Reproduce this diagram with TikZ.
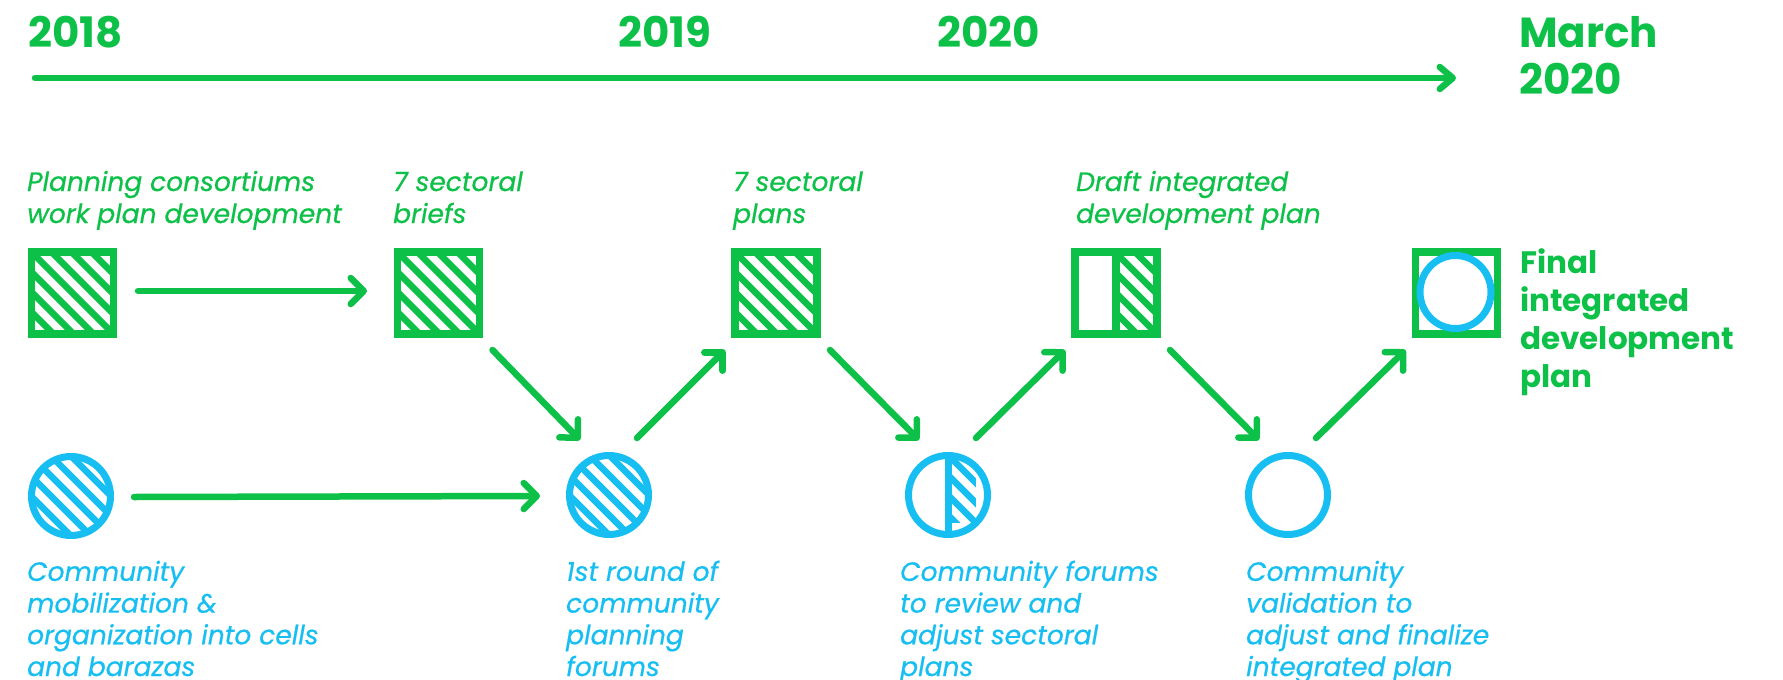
\documentclass[tikz,border=0pt]{standalone}
\usepackage{fontspec}
\setmainfont{Poppins}
\newfontfamily\labelfont{Poppins}[FakeBold=0.6]
\usetikzlibrary{arrows.meta,shapes.geometric}
\definecolor{tgreen}{RGB}{12,192,72}
\definecolor{tblue}{RGB}{22,190,242}
\begin{document}
\begin{tikzpicture}[x=1pt,y=-1pt,
  sqbox/.style={draw=tgreen, line width=7.5pt, minimum size=82pt, inner sep=0pt, outer sep=0pt},
  cirbox/.style={draw=tblue, circle, line width=7pt, minimum size=79pt, inner sep=0pt, outer sep=0pt},
  ghatch/.style={draw=tgreen, line width=6.5pt},
  bhatch/.style={draw=tblue, line width=6.5pt},
  arr/.style={draw=tgreen, line width=6.5pt, line cap=round, -{Straight Barb[length=13pt,width=26pt,round]}},
  yearlab/.style={text=tgreen, font=\bfseries\fontsize{42}{47}\selectfont, anchor=base west, inner sep=0pt, align=left},
  toplab/.style={text=tgreen, font=\labelfont\itshape\fontsize{26.5}{32}\selectfont, anchor=base west, inner sep=0pt, align=left},
  botlab/.style={text=tblue, font=\labelfont\itshape\fontsize{26.5}{31.7}\selectfont, anchor=base west, inner sep=0pt, align=left},
  finlab/.style={text=tgreen, font=\bfseries\fontsize{31}{37.7}\selectfont, anchor=base west, inner sep=0pt, align=left}
]
\useasboundingbox (0,0) rectangle (1783,680);

% timeline
\node[yearlab] (y2018) at (28,47) {2018};
\node[yearlab] (y2019) at (618,47) {2019};
\node[yearlab] (y2020) at (937,47) {2020};
\node[yearlab] (ymar) at (1519,94) {March\\2020};
\coordinate (tl0) at (35,78);
\coordinate (tl1) at (1456,78);
\draw[arr, -{Straight Barb[length=13pt,width=22pt,round]}] (tl0) -- (tl1);

% squares
\node[sqbox] (s1) at (72.5,293) {};
\node[sqbox] (s2) at (438.5,293) {};
\node[sqbox] (s3) at (776,293) {};
\node[sqbox] (s4) at (1116,293) {};
\node[sqbox] (s5) at (1456.5,293) {};
% circles
\node[cirbox] (c1) at (71,496) {};
\node[cirbox] (c2) at (609,495) {};
\node[cirbox] (c3) at (948,495) {};
\node[cirbox] (c4) at (1288,495) {};
\node[draw=tblue, ellipse, line width=7pt, minimum width=71pt, minimum height=73pt, inner sep=0pt] (e5) at (1455.5,292) {};

% hatching of full squares
\foreach \s in {s1,s2,s3}{
  \begin{scope}
    \clip (\s.south west) rectangle (\s.north east);
    \foreach \k in {-6,...,6}
      \draw[ghatch] ([shift={(\k*20-70,-70)}]\s.center) -- ([shift={(\k*20+70,70)}]\s.center);
  \end{scope}
}
% half square
\begin{scope}
  \clip (s4.north) rectangle (s4.south east);
  \foreach \k in {-6,...,6}
    \draw[ghatch] ([shift={(\k*20-70,-70)}]s4.center) -- ([shift={(\k*20+70,70)}]s4.center);
\end{scope}
\draw[draw=tgreen, line width=7.5pt] (s4.north) -- (s4.south);

% hatching of full circles
\foreach \c in {c1,c2}{
  \begin{scope}
    \clip (\c.center) circle[radius=39.5];
    \foreach \k in {-6,...,6}
      \draw[bhatch] ([shift={(\k*20-70,-70)}]\c.center) -- ([shift={(\k*20+70,70)}]\c.center);
  \end{scope}
}
% half circle
\begin{scope}
  \clip (c3.center) circle[radius=39.5];
  \clip (c3.north) rectangle (c3.south east);
  \foreach \k in {-6,...,6}
    \draw[bhatch] ([shift={(\k*20-70,-70)}]c3.center) -- ([shift={(\k*20+70,70)}]c3.center);
\end{scope}
\draw[draw=tblue, line width=7pt] (c3.north) -- (c3.south);

% connectors
\draw[arr] ([shift={(24.5,-2)}]s1.east) -- ([shift={(-30.5,-2)}]s2.west);
\draw[arr] ([shift={(23.5,1)}]c1.east) -- ([shift={(-29.5,1)}]c2.west);
\draw[arr] ([shift={(54,57)}]s2.center) -- ([shift={(-29,-55)}]c2.center);
\draw[arr] ([shift={(28,-57)}]c2.center) -- ([shift={(-51,57)}]s3.center);
\draw[arr] ([shift={(54,57)}]s3.center) -- ([shift={(-29,-55)}]c3.center);
\draw[arr] ([shift={(28,-57)}]c3.center) -- ([shift={(-51,57)}]s4.center);
\draw[arr] ([shift={(54,57)}]s4.center) -- ([shift={(-29,-55)}]c4.center);
\draw[arr] ([shift={(28,-57)}]c4.center) -- ([shift={(-51,57)}]s5.center);

% labels
\node[toplab] (t1) at (27,223) {Planning consortiums\\work plan development};
\node[toplab] (t2) at (393,223) {7 sectoral\\briefs};
\node[toplab] (t3) at (733,223) {7 sectoral\\plans};
\node[toplab] (t4) at (1076,223) {Draft integrated\\development plan};
\node[finlab] (t5) at (1520,387) {Final\\integrated\\development\\plan};

\node[botlab] (b1) at (27,676) {Community\\mobilization \&\\organization into cells\\and barazas};
\node[botlab] (b2) at (566,676) {1st round of\\community\\planning\\forums};
\node[botlab] (b3) at (900,676) {Community forums\\to review and\\adjust sectoral\\plans};
\node[botlab] (b4) at (1246,676) {Community\\validation to\\adjust and finalize\\integrated plan};
\end{tikzpicture}
\end{document}
